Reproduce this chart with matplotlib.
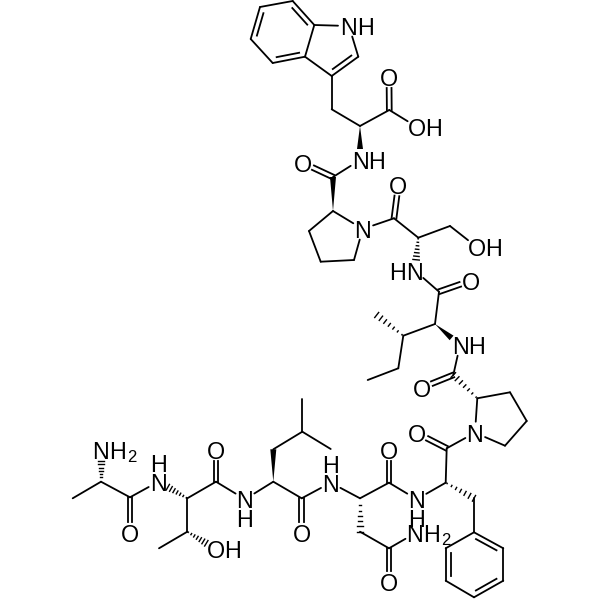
#peptide structure drawing
import numpy as np
import matplotlib
matplotlib.use('Agg')
import matplotlib.pyplot as plt
from matplotlib.patches import Polygon

#atom positions (pixel)
atom_x = [292.7,260,250.7,272.7,305,314.3,349,358.3,331.7,331.7,360,389.3,389,417,360,333,303,333,362.7,354,
          320.7,309,394,398.3,418.3,450,476.7,415,439,470.7,435,460,403.3,376.7,398.3,367.7,453.3,421.7,477.3,510,
          526.7,505,475,446.7,417.3,445.7,474,474,503.3,503.3,474,445.7,445.7,416.7,389,389,360,360,389,389,
          415,330.7,301.7,301.7,273.3,273.3,302.3,302.3,330.7,245,216,216,187.3,158.3,187.3,215.7,159,130,130,101,
          101,72.7]
atom_y = [1,7,39,63,56.7,25,26,56.7,76,109.3,126,110,77,127,160,177,163,211,229,260,
          261.7,231,218.3,185,237.7,226,247,270.7,291.7,280.7,324,345,335.7,315,368.3,380,375,387.7,398.3,392.3,
          421,445.7,432.7,448.3,433.3,482.7,498.3,532.3,548.3,580.7,597.3,580.7,548.3,499.3,482.7,450,498.3,531.7,548.3,581.7,
          533.3,482.7,498.3,532.7,481.7,449.3,431.7,399.3,449,499.3,481.7,450,498.3,481.7,531.7,549,548.3,497.3,532.7,481.7,
          450,498.3]

#bonds
single_bonds = [(0,1),(2,3),(4,5),(5,6),(6,7),(8,4),(8,9),(9,10),(10,11),(11,13),(14,15),(17,18),(18,19),(19,20),
                (20,21),(21,17),(18,22),(22,24),(24,25),(25,26),(27,28),(28,30),(30,32),(32,34),(34,35),(31,36),
                (38,39),(39,40),(40,41),(41,42),(42,38),(42,43),(43,45),(46,47),(48,49),(50,51),(52,47),(45,53),
                (53,54),(54,56),(57,58),(58,60),(56,61),(61,62),(62,64),(65,66),(66,67),(66,68),(64,69),(69,70),
                (70,72),(72,74),(74,76),(73,77),(77,79),(79,81)]
carbonyl_bonds = [(11,12),(15,16),(22,23),(28,29),(36,37),(43,44),(54,55),(58,59),(62,63),(70,71),(77,78)]
#third number = atom on the inner side of the ring
ring_double_bonds = [(1,2,4),(3,4,1),(5,0,2),(7,8,5),(47,48,50),(49,50,47),(51,52,48)]
#narrow end first
wedge_bonds = [(10,14),(17,15),(30,31),(64,65)]
hash_bonds = [(24,27),(32,33),(38,36),(45,46),(56,57),(72,73),(74,75),(79,80)]

#labelled atoms
o_atoms = [12,13,16,23,26,29,37,44,55,59,63,71,75,78]
n_atoms = [6,14,18,27,31,42,53,60,61,69,73,80]
h_right = [6,13,14,26,31,60,75,80]
h_left = [27]
h_up = [61,73]
h_down = [53,69]
sub_two = [60,80]
label_atoms = o_atoms + n_atoms

lw = 1.3
font = 'Liberation Sans'
fsize = 16.8

def trim(i,j):
    #start and end of a bond, cut back at labelled atoms
    p = np.array([atom_x[i],atom_y[i]])
    q = np.array([atom_x[j],atom_y[j]])
    u = (q-p)/np.hypot(*(q-p))
    if i in label_atoms:
        p = p + u*11
    if j in label_atoms:
        q = q - u*11
    return p,q,u

def put(x,y,s,size = fsize):
    ax.text(x,y,s,fontsize = size,family = font,ha = 'center',va = 'center_baseline',color = 'k')

fig = plt.figure(figsize = (6,6),dpi = 100)
ax = fig.add_axes([0,0,1,1])
ax.set_xlim(0,600)
ax.set_ylim(600,0)
ax.axis('off')

for i,j in single_bonds:
    p,q,u = trim(i,j)
    ax.plot([p[0],q[0]],[p[1],q[1]],color = 'k',lw = lw,solid_capstyle = 'round')

for i,j in carbonyl_bonds:
    p,q,u = trim(i,j)
    n = np.array([-u[1],u[0]])*2.4
    ax.plot([p[0]+n[0],q[0]+n[0]],[p[1]+n[1],q[1]+n[1]],color = 'k',lw = lw)
    ax.plot([p[0]-n[0],q[0]-n[0]],[p[1]-n[1],q[1]-n[1]],color = 'k',lw = lw)

for i,j,k in ring_double_bonds:
    p,q,u = trim(i,j)
    ax.plot([p[0],q[0]],[p[1],q[1]],color = 'k',lw = lw,solid_capstyle = 'round')
    n = np.array([-u[1],u[0]])
    r = np.array([atom_x[k],atom_y[k]]) - p
    if np.dot(n,r) < 0:
        n = -n
    a = p + u*5 + n*5
    b = q - u*5 + n*5
    ax.plot([a[0],b[0]],[a[1],b[1]],color = 'k',lw = lw)

for i,j in wedge_bonds:
    p,q,u = trim(i,j)
    n = np.array([-u[1],u[0]])*3.0
    ax.add_patch(Polygon([p,q+n,q-n],closed = True,color = 'k',lw = 0))

for i,j in hash_bonds:
    p,q,u = trim(i,j)
    n = np.array([-u[1],u[0]])
    for t in np.linspace(0.05,1,7):
        c = p + (q-p)*t
        w = 3.2*t
        ax.plot([c[0]-n[0]*w,c[0]+n[0]*w],[c[1]-n[1]*w,c[1]+n[1]*w],color = 'k',lw = 1.0)

for i in o_atoms:
    put(atom_x[i],atom_y[i],'O')
for i in n_atoms:
    put(atom_x[i],atom_y[i],'N')
for i in h_right:
    put(atom_x[i]+17,atom_y[i],'H')
for i in h_left:
    put(atom_x[i]-17,atom_y[i],'H')
for i in h_up:
    put(atom_x[i],atom_y[i]-18.5,'H')
for i in h_down:
    put(atom_x[i],atom_y[i]+18.5,'H')
for i in sub_two:
    put(atom_x[i]+31,atom_y[i]+6,'2',size = 12)

plt.savefig('out.png',dpi = 100)
